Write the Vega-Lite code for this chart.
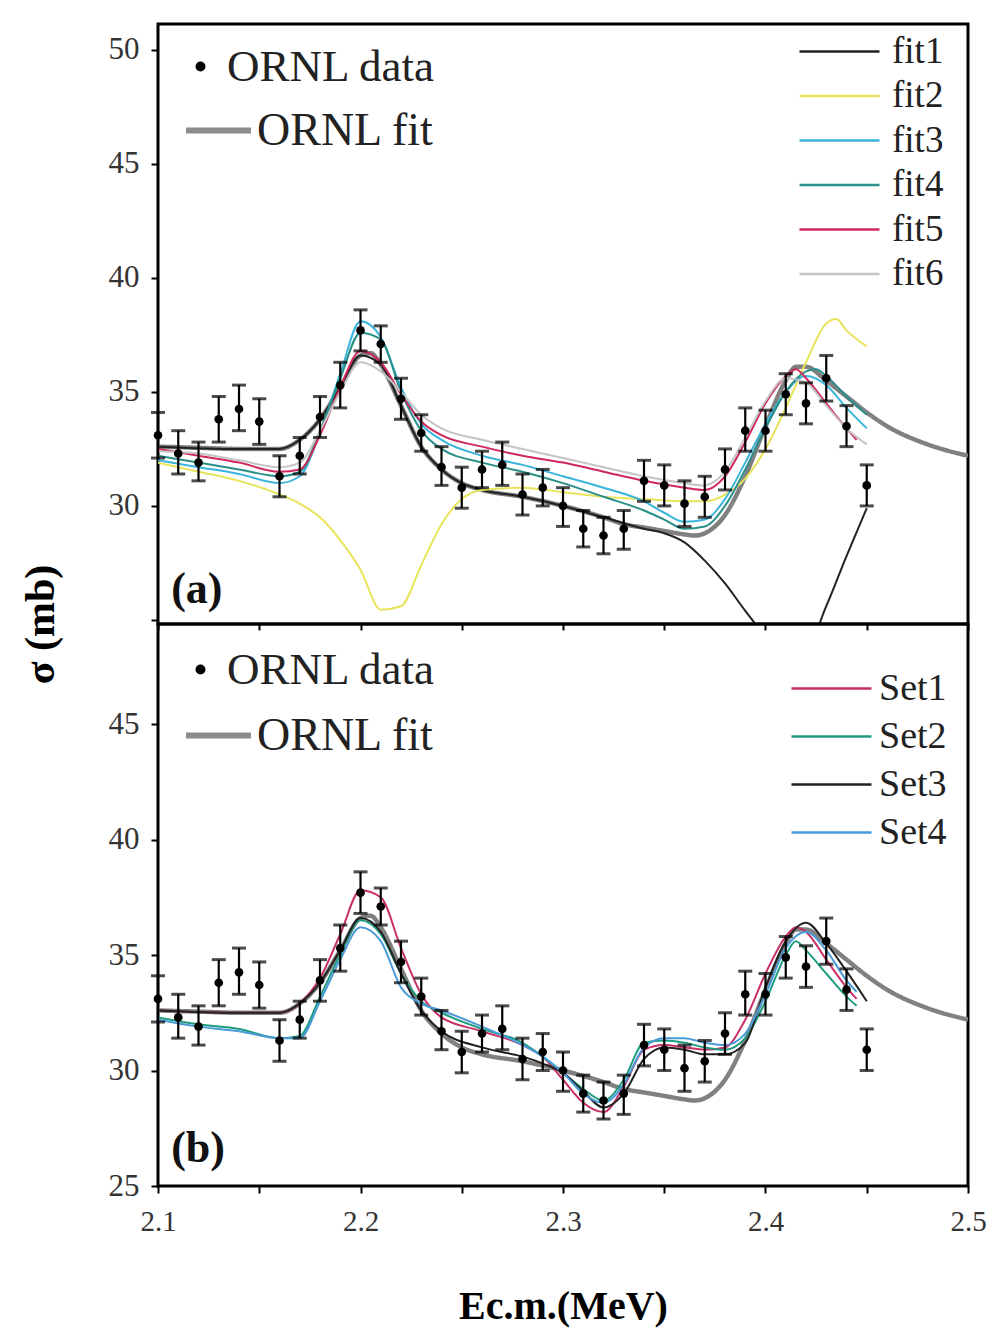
{
  "$schema": "https://vega.github.io/schema/vega-lite/v6.json",
  "padding": {"left": 17, "top": 22, "right": 29, "bottom": 5},
  "background": "white",
  "config": {
    "font": "Liberation Serif",
    "view": {"stroke": "black", "strokeWidth": 3},
    "axis": {"grid": false, "domain": false, "labelFont": "Liberation Serif", "labelFontSize": 29, "labelColor": "#333", "tickColor": "black", "tickWidth": 2, "tickSize": 7, "labelPadding": 8, "titleFont": "Liberation Serif", "titleColor": "black"},
    "legend": {"labelFont": "Liberation Serif", "labelColor": "#222", "labelLimit": 500, "orient": "none", "title": null}
  },
  "datasets": {
    "pts": [
      {"E": 2.10, "s": 33.1, "lo": 32.1, "hi": 34.1, "src": "ORNL data"},
      {"E": 2.11, "s": 32.3, "lo": 31.4, "hi": 33.3, "src": "ORNL data"},
      {"E": 2.12, "s": 31.9, "lo": 31.1, "hi": 32.8, "src": "ORNL data"},
      {"E": 2.13, "s": 33.8, "lo": 32.8, "hi": 34.8, "src": "ORNL data"},
      {"E": 2.14, "s": 34.25, "lo": 33.3, "hi": 35.3, "src": "ORNL data"},
      {"E": 2.15, "s": 33.7, "lo": 32.7, "hi": 34.7, "src": "ORNL data"},
      {"E": 2.16, "s": 31.3, "lo": 30.4, "hi": 32.2, "src": "ORNL data"},
      {"E": 2.17, "s": 32.2, "lo": 31.4, "hi": 33.0, "src": "ORNL data"},
      {"E": 2.18, "s": 33.9, "lo": 33.0, "hi": 34.8, "src": "ORNL data"},
      {"E": 2.19, "s": 35.3, "lo": 34.3, "hi": 36.3, "src": "ORNL data"},
      {"E": 2.20, "s": 37.7, "lo": 36.8, "hi": 38.6, "src": "ORNL data"},
      {"E": 2.21, "s": 37.1, "lo": 36.3, "hi": 37.9, "src": "ORNL data"},
      {"E": 2.22, "s": 34.7, "lo": 33.8, "hi": 35.6, "src": "ORNL data"},
      {"E": 2.23, "s": 33.2, "lo": 32.4, "hi": 34.0, "src": "ORNL data"},
      {"E": 2.24, "s": 31.7, "lo": 30.9, "hi": 32.6, "src": "ORNL data"},
      {"E": 2.25, "s": 30.8, "lo": 29.9, "hi": 31.7, "src": "ORNL data"},
      {"E": 2.26, "s": 31.6, "lo": 30.8, "hi": 32.4, "src": "ORNL data"},
      {"E": 2.27, "s": 31.8, "lo": 30.9, "hi": 32.8, "src": "ORNL data"},
      {"E": 2.28, "s": 30.5, "lo": 29.6, "hi": 31.4, "src": "ORNL data"},
      {"E": 2.29, "s": 30.8, "lo": 30.0, "hi": 31.6, "src": "ORNL data"},
      {"E": 2.30, "s": 30.0, "lo": 29.1, "hi": 30.8, "src": "ORNL data"},
      {"E": 2.31, "s": 29.0, "lo": 28.2, "hi": 29.8, "src": "ORNL data"},
      {"E": 2.32, "s": 28.7, "lo": 27.9, "hi": 29.5, "src": "ORNL data"},
      {"E": 2.33, "s": 29.0, "lo": 28.1, "hi": 29.8, "src": "ORNL data"},
      {"E": 2.34, "s": 31.1, "lo": 30.2, "hi": 32.0, "src": "ORNL data"},
      {"E": 2.35, "s": 30.9, "lo": 30.0, "hi": 31.8, "src": "ORNL data"},
      {"E": 2.36, "s": 30.1, "lo": 29.1, "hi": 31.1, "src": "ORNL data"},
      {"E": 2.37, "s": 30.4, "lo": 29.5, "hi": 31.3, "src": "ORNL data"},
      {"E": 2.38, "s": 31.6, "lo": 30.7, "hi": 32.5, "src": "ORNL data"},
      {"E": 2.39, "s": 33.3, "lo": 32.4, "hi": 34.3, "src": "ORNL data"},
      {"E": 2.40, "s": 33.3, "lo": 32.4, "hi": 34.2, "src": "ORNL data"},
      {"E": 2.41, "s": 34.9, "lo": 34.0, "hi": 35.8, "src": "ORNL data"},
      {"E": 2.42, "s": 34.5, "lo": 33.6, "hi": 35.4, "src": "ORNL data"},
      {"E": 2.43, "s": 35.6, "lo": 34.6, "hi": 36.6, "src": "ORNL data"},
      {"E": 2.44, "s": 33.5, "lo": 32.6, "hi": 34.4, "src": "ORNL data"},
      {"E": 2.45, "s": 30.9, "lo": 30.0, "hi": 31.8, "src": "ORNL data"}
    ],
    "ornl": [
      {"E": 2.10, "s": 32.6, "src": "ORNL fit"}, {"E": 2.12, "s": 32.55, "src": "ORNL fit"}, {"E": 2.14, "s": 32.5, "src": "ORNL fit"},
      {"E": 2.16, "s": 32.5, "src": "ORNL fit"}, {"E": 2.17, "s": 32.9, "src": "ORNL fit"}, {"E": 2.18, "s": 33.8, "src": "ORNL fit"},
      {"E": 2.19, "s": 35.2, "src": "ORNL fit"}, {"E": 2.20, "s": 36.6, "src": "ORNL fit"}, {"E": 2.205, "s": 36.7, "src": "ORNL fit"},
      {"E": 2.21, "s": 36.2, "src": "ORNL fit"}, {"E": 2.22, "s": 34.4, "src": "ORNL fit"}, {"E": 2.23, "s": 32.6, "src": "ORNL fit"},
      {"E": 2.24, "s": 31.6, "src": "ORNL fit"}, {"E": 2.25, "s": 31.0, "src": "ORNL fit"}, {"E": 2.26, "s": 30.7, "src": "ORNL fit"},
      {"E": 2.28, "s": 30.4, "src": "ORNL fit"}, {"E": 2.30, "s": 30.0, "src": "ORNL fit"}, {"E": 2.32, "s": 29.5, "src": "ORNL fit"},
      {"E": 2.33, "s": 29.2, "src": "ORNL fit"}, {"E": 2.34, "s": 29.05, "src": "ORNL fit"}, {"E": 2.35, "s": 28.9, "src": "ORNL fit"},
      {"E": 2.36, "s": 28.75, "src": "ORNL fit"}, {"E": 2.365, "s": 28.7, "src": "ORNL fit"}, {"E": 2.37, "s": 28.8, "src": "ORNL fit"},
      {"E": 2.38, "s": 29.6, "src": "ORNL fit"}, {"E": 2.39, "s": 31.3, "src": "ORNL fit"}, {"E": 2.40, "s": 33.5, "src": "ORNL fit"},
      {"E": 2.41, "s": 35.5, "src": "ORNL fit"}, {"E": 2.415, "s": 36.1, "src": "ORNL fit"}, {"E": 2.42, "s": 36.1, "src": "ORNL fit"},
      {"E": 2.43, "s": 35.5, "src": "ORNL fit"}, {"E": 2.44, "s": 34.8, "src": "ORNL fit"}, {"E": 2.45, "s": 34.1, "src": "ORNL fit"},
      {"E": 2.46, "s": 33.5, "src": "ORNL fit"}, {"E": 2.48, "s": 32.7, "src": "ORNL fit"}, {"E": 2.50, "s": 32.2, "src": "ORNL fit"}
    ],
    "fits": [
      {"fit": "fit1", "E": 2.10, "s": 32.6}, {"fit": "fit1", "E": 2.14, "s": 32.5}, {"fit": "fit1", "E": 2.16, "s": 32.5}, {"fit": "fit1", "E": 2.17, "s": 32.9},
      {"fit": "fit1", "E": 2.18, "s": 33.8}, {"fit": "fit1", "E": 2.19, "s": 35.2}, {"fit": "fit1", "E": 2.20, "s": 36.6}, {"fit": "fit1", "E": 2.21, "s": 36.2},
      {"fit": "fit1", "E": 2.22, "s": 34.4}, {"fit": "fit1", "E": 2.23, "s": 32.6}, {"fit": "fit1", "E": 2.24, "s": 31.6}, {"fit": "fit1", "E": 2.25, "s": 31.0},
      {"fit": "fit1", "E": 2.26, "s": 30.7}, {"fit": "fit1", "E": 2.28, "s": 30.4}, {"fit": "fit1", "E": 2.30, "s": 30.0}, {"fit": "fit1", "E": 2.32, "s": 29.5},
      {"fit": "fit1", "E": 2.34, "s": 29.0}, {"fit": "fit1", "E": 2.35, "s": 28.8}, {"fit": "fit1", "E": 2.36, "s": 28.4}, {"fit": "fit1", "E": 2.37, "s": 27.6},
      {"fit": "fit1", "E": 2.38, "s": 26.6}, {"fit": "fit1", "E": 2.39, "s": 25.4}, {"fit": "fit1", "E": 2.40, "s": 24.3}, {"fit": "fit1", "E": 2.41, "s": 23.6},
      {"fit": "fit1", "E": 2.42, "s": 23.7}, {"fit": "fit1", "E": 2.43, "s": 25.6}, {"fit": "fit1", "E": 2.44, "s": 27.8}, {"fit": "fit1", "E": 2.45, "s": 29.9},

      {"fit": "fit2", "E": 2.10, "s": 31.9}, {"fit": "fit2", "E": 2.12, "s": 31.5}, {"fit": "fit2", "E": 2.14, "s": 31.1}, {"fit": "fit2", "E": 2.16, "s": 30.5},
      {"fit": "fit2", "E": 2.17, "s": 30.1}, {"fit": "fit2", "E": 2.18, "s": 29.5}, {"fit": "fit2", "E": 2.19, "s": 28.5}, {"fit": "fit2", "E": 2.20, "s": 27.2},
      {"fit": "fit2", "E": 2.21, "s": 25.45}, {"fit": "fit2", "E": 2.22, "s": 25.6}, {"fit": "fit2", "E": 2.23, "s": 27.4}, {"fit": "fit2", "E": 2.24, "s": 29.2},
      {"fit": "fit2", "E": 2.25, "s": 30.3}, {"fit": "fit2", "E": 2.26, "s": 30.7}, {"fit": "fit2", "E": 2.28, "s": 30.8}, {"fit": "fit2", "E": 2.30, "s": 30.6},
      {"fit": "fit2", "E": 2.32, "s": 30.4}, {"fit": "fit2", "E": 2.34, "s": 30.3}, {"fit": "fit2", "E": 2.36, "s": 30.2}, {"fit": "fit2", "E": 2.37, "s": 30.2},
      {"fit": "fit2", "E": 2.38, "s": 30.5}, {"fit": "fit2", "E": 2.39, "s": 31.2}, {"fit": "fit2", "E": 2.40, "s": 32.5}, {"fit": "fit2", "E": 2.41, "s": 34.3},
      {"fit": "fit2", "E": 2.42, "s": 36.3}, {"fit": "fit2", "E": 2.43, "s": 38.0}, {"fit": "fit2", "E": 2.435, "s": 38.2}, {"fit": "fit2", "E": 2.44, "s": 37.7},
      {"fit": "fit2", "E": 2.45, "s": 37.0},

      {"fit": "fit3", "E": 2.10, "s": 32.0}, {"fit": "fit3", "E": 2.12, "s": 31.7}, {"fit": "fit3", "E": 2.14, "s": 31.4}, {"fit": "fit3", "E": 2.16, "s": 31.0},
      {"fit": "fit3", "E": 2.17, "s": 31.3}, {"fit": "fit3", "E": 2.18, "s": 33.2}, {"fit": "fit3", "E": 2.19, "s": 35.8}, {"fit": "fit3", "E": 2.20, "s": 38.1},
      {"fit": "fit3", "E": 2.21, "s": 37.4}, {"fit": "fit3", "E": 2.22, "s": 35.2}, {"fit": "fit3", "E": 2.23, "s": 33.6}, {"fit": "fit3", "E": 2.24, "s": 32.9},
      {"fit": "fit3", "E": 2.26, "s": 32.2}, {"fit": "fit3", "E": 2.28, "s": 31.8}, {"fit": "fit3", "E": 2.30, "s": 31.3}, {"fit": "fit3", "E": 2.32, "s": 30.8},
      {"fit": "fit3", "E": 2.34, "s": 30.2}, {"fit": "fit3", "E": 2.35, "s": 29.7}, {"fit": "fit3", "E": 2.36, "s": 29.3}, {"fit": "fit3", "E": 2.37, "s": 29.4},
      {"fit": "fit3", "E": 2.38, "s": 30.3}, {"fit": "fit3", "E": 2.39, "s": 31.9}, {"fit": "fit3", "E": 2.40, "s": 33.6}, {"fit": "fit3", "E": 2.41, "s": 35.0},
      {"fit": "fit3", "E": 2.42, "s": 35.7}, {"fit": "fit3", "E": 2.43, "s": 35.3}, {"fit": "fit3", "E": 2.44, "s": 34.3}, {"fit": "fit3", "E": 2.45, "s": 33.4},

      {"fit": "fit4", "E": 2.10, "s": 32.2}, {"fit": "fit4", "E": 2.12, "s": 31.9}, {"fit": "fit4", "E": 2.14, "s": 31.6}, {"fit": "fit4", "E": 2.16, "s": 31.3},
      {"fit": "fit4", "E": 2.17, "s": 31.5}, {"fit": "fit4", "E": 2.18, "s": 33.3}, {"fit": "fit4", "E": 2.19, "s": 35.6}, {"fit": "fit4", "E": 2.20, "s": 37.6},
      {"fit": "fit4", "E": 2.21, "s": 37.3}, {"fit": "fit4", "E": 2.22, "s": 35.0}, {"fit": "fit4", "E": 2.23, "s": 33.3}, {"fit": "fit4", "E": 2.24, "s": 32.5},
      {"fit": "fit4", "E": 2.26, "s": 31.9}, {"fit": "fit4", "E": 2.28, "s": 31.5}, {"fit": "fit4", "E": 2.30, "s": 31.0}, {"fit": "fit4", "E": 2.32, "s": 30.4},
      {"fit": "fit4", "E": 2.34, "s": 29.8}, {"fit": "fit4", "E": 2.35, "s": 29.4}, {"fit": "fit4", "E": 2.36, "s": 29.0}, {"fit": "fit4", "E": 2.37, "s": 29.1},
      {"fit": "fit4", "E": 2.38, "s": 30.0}, {"fit": "fit4", "E": 2.39, "s": 31.6}, {"fit": "fit4", "E": 2.40, "s": 33.4}, {"fit": "fit4", "E": 2.41, "s": 35.0},
      {"fit": "fit4", "E": 2.42, "s": 35.9}, {"fit": "fit4", "E": 2.425, "s": 36.0}, {"fit": "fit4", "E": 2.43, "s": 35.7}, {"fit": "fit4", "E": 2.44, "s": 34.8},
      {"fit": "fit4", "E": 2.45, "s": 34.0},

      {"fit": "fit5", "E": 2.10, "s": 32.5}, {"fit": "fit5", "E": 2.12, "s": 32.2}, {"fit": "fit5", "E": 2.14, "s": 31.9}, {"fit": "fit5", "E": 2.16, "s": 31.5},
      {"fit": "fit5", "E": 2.17, "s": 31.6}, {"fit": "fit5", "E": 2.18, "s": 33.1}, {"fit": "fit5", "E": 2.19, "s": 35.2}, {"fit": "fit5", "E": 2.20, "s": 36.8},
      {"fit": "fit5", "E": 2.21, "s": 36.3}, {"fit": "fit5", "E": 2.22, "s": 34.9}, {"fit": "fit5", "E": 2.23, "s": 33.7}, {"fit": "fit5", "E": 2.24, "s": 33.1},
      {"fit": "fit5", "E": 2.26, "s": 32.6}, {"fit": "fit5", "E": 2.28, "s": 32.2}, {"fit": "fit5", "E": 2.30, "s": 31.9}, {"fit": "fit5", "E": 2.32, "s": 31.5},
      {"fit": "fit5", "E": 2.34, "s": 31.1}, {"fit": "fit5", "E": 2.36, "s": 30.8}, {"fit": "fit5", "E": 2.37, "s": 30.7}, {"fit": "fit5", "E": 2.38, "s": 31.3},
      {"fit": "fit5", "E": 2.39, "s": 32.8}, {"fit": "fit5", "E": 2.40, "s": 34.5}, {"fit": "fit5", "E": 2.41, "s": 35.7}, {"fit": "fit5", "E": 2.415, "s": 36.0},
      {"fit": "fit5", "E": 2.42, "s": 35.6}, {"fit": "fit5", "E": 2.43, "s": 34.5}, {"fit": "fit5", "E": 2.44, "s": 33.4}, {"fit": "fit5", "E": 2.445, "s": 32.9},

      {"fit": "fit6", "E": 2.10, "s": 32.4}, {"fit": "fit6", "E": 2.12, "s": 32.3}, {"fit": "fit6", "E": 2.14, "s": 32.0}, {"fit": "fit6", "E": 2.16, "s": 31.7},
      {"fit": "fit6", "E": 2.17, "s": 31.9}, {"fit": "fit6", "E": 2.18, "s": 33.3}, {"fit": "fit6", "E": 2.19, "s": 35.0}, {"fit": "fit6", "E": 2.20, "s": 36.3},
      {"fit": "fit6", "E": 2.21, "s": 35.9}, {"fit": "fit6", "E": 2.22, "s": 35.0}, {"fit": "fit6", "E": 2.23, "s": 34.0}, {"fit": "fit6", "E": 2.24, "s": 33.4},
      {"fit": "fit6", "E": 2.26, "s": 32.9}, {"fit": "fit6", "E": 2.28, "s": 32.5}, {"fit": "fit6", "E": 2.30, "s": 32.1}, {"fit": "fit6", "E": 2.32, "s": 31.7},
      {"fit": "fit6", "E": 2.34, "s": 31.3}, {"fit": "fit6", "E": 2.36, "s": 31.0}, {"fit": "fit6", "E": 2.37, "s": 30.9}, {"fit": "fit6", "E": 2.38, "s": 31.5},
      {"fit": "fit6", "E": 2.39, "s": 33.0}, {"fit": "fit6", "E": 2.40, "s": 34.6}, {"fit": "fit6", "E": 2.41, "s": 35.6}, {"fit": "fit6", "E": 2.42, "s": 35.4},
      {"fit": "fit6", "E": 2.43, "s": 34.4}, {"fit": "fit6", "E": 2.44, "s": 33.4}, {"fit": "fit6", "E": 2.45, "s": 32.7}
    ],
    "sets": [
      {"set": "Set1", "E": 2.10, "s": 32.6}, {"set": "Set1", "E": 2.14, "s": 32.5}, {"set": "Set1", "E": 2.16, "s": 32.5}, {"set": "Set1", "E": 2.17, "s": 32.9},
      {"set": "Set1", "E": 2.18, "s": 34.0}, {"set": "Set1", "E": 2.19, "s": 35.9}, {"set": "Set1", "E": 2.20, "s": 37.8}, {"set": "Set1", "E": 2.21, "s": 37.5},
      {"set": "Set1", "E": 2.22, "s": 35.3}, {"set": "Set1", "E": 2.23, "s": 33.3}, {"set": "Set1", "E": 2.24, "s": 32.3}, {"set": "Set1", "E": 2.26, "s": 31.7},
      {"set": "Set1", "E": 2.28, "s": 31.1}, {"set": "Set1", "E": 2.29, "s": 30.6}, {"set": "Set1", "E": 2.30, "s": 29.6}, {"set": "Set1", "E": 2.31, "s": 28.6},
      {"set": "Set1", "E": 2.32, "s": 28.2}, {"set": "Set1", "E": 2.33, "s": 29.3}, {"set": "Set1", "E": 2.34, "s": 30.9}, {"set": "Set1", "E": 2.35, "s": 31.1},
      {"set": "Set1", "E": 2.36, "s": 31.0}, {"set": "Set1", "E": 2.37, "s": 30.9}, {"set": "Set1", "E": 2.38, "s": 31.0}, {"set": "Set1", "E": 2.39, "s": 32.2},
      {"set": "Set1", "E": 2.40, "s": 34.2}, {"set": "Set1", "E": 2.41, "s": 35.8}, {"set": "Set1", "E": 2.415, "s": 36.2}, {"set": "Set1", "E": 2.42, "s": 36.0},
      {"set": "Set1", "E": 2.43, "s": 34.8}, {"set": "Set1", "E": 2.44, "s": 33.6}, {"set": "Set1", "E": 2.445, "s": 33.1},

      {"set": "Set2", "E": 2.10, "s": 32.3}, {"set": "Set2", "E": 2.12, "s": 32.0}, {"set": "Set2", "E": 2.14, "s": 31.8}, {"set": "Set2", "E": 2.16, "s": 31.4},
      {"set": "Set2", "E": 2.17, "s": 31.5}, {"set": "Set2", "E": 2.18, "s": 33.2}, {"set": "Set2", "E": 2.19, "s": 35.0}, {"set": "Set2", "E": 2.20, "s": 36.5},
      {"set": "Set2", "E": 2.21, "s": 35.9}, {"set": "Set2", "E": 2.22, "s": 34.2}, {"set": "Set2", "E": 2.23, "s": 33.0}, {"set": "Set2", "E": 2.24, "s": 32.5},
      {"set": "Set2", "E": 2.26, "s": 31.8}, {"set": "Set2", "E": 2.28, "s": 31.2}, {"set": "Set2", "E": 2.29, "s": 30.6}, {"set": "Set2", "E": 2.30, "s": 29.9},
      {"set": "Set2", "E": 2.31, "s": 29.2}, {"set": "Set2", "E": 2.32, "s": 28.7}, {"set": "Set2", "E": 2.33, "s": 29.6}, {"set": "Set2", "E": 2.34, "s": 31.2},
      {"set": "Set2", "E": 2.35, "s": 31.3}, {"set": "Set2", "E": 2.36, "s": 31.2}, {"set": "Set2", "E": 2.37, "s": 31.0}, {"set": "Set2", "E": 2.38, "s": 30.9},
      {"set": "Set2", "E": 2.39, "s": 31.4}, {"set": "Set2", "E": 2.40, "s": 33.0}, {"set": "Set2", "E": 2.41, "s": 35.0}, {"set": "Set2", "E": 2.415, "s": 35.6},
      {"set": "Set2", "E": 2.42, "s": 35.2}, {"set": "Set2", "E": 2.43, "s": 34.2}, {"set": "Set2", "E": 2.44, "s": 33.2}, {"set": "Set2", "E": 2.445, "s": 32.8},

      {"set": "Set3", "E": 2.10, "s": 32.6}, {"set": "Set3", "E": 2.14, "s": 32.5}, {"set": "Set3", "E": 2.16, "s": 32.5}, {"set": "Set3", "E": 2.17, "s": 32.9},
      {"set": "Set3", "E": 2.18, "s": 33.8}, {"set": "Set3", "E": 2.19, "s": 35.2}, {"set": "Set3", "E": 2.20, "s": 36.6}, {"set": "Set3", "E": 2.21, "s": 36.0},
      {"set": "Set3", "E": 2.22, "s": 34.2}, {"set": "Set3", "E": 2.23, "s": 32.6}, {"set": "Set3", "E": 2.24, "s": 31.7}, {"set": "Set3", "E": 2.26, "s": 31.0},
      {"set": "Set3", "E": 2.28, "s": 30.6}, {"set": "Set3", "E": 2.29, "s": 30.3}, {"set": "Set3", "E": 2.30, "s": 29.9}, {"set": "Set3", "E": 2.31, "s": 29.1},
      {"set": "Set3", "E": 2.32, "s": 28.4}, {"set": "Set3", "E": 2.33, "s": 29.0}, {"set": "Set3", "E": 2.34, "s": 30.5}, {"set": "Set3", "E": 2.35, "s": 31.0},
      {"set": "Set3", "E": 2.36, "s": 30.9}, {"set": "Set3", "E": 2.37, "s": 30.7}, {"set": "Set3", "E": 2.38, "s": 30.7}, {"set": "Set3", "E": 2.39, "s": 31.2},
      {"set": "Set3", "E": 2.40, "s": 33.6}, {"set": "Set3", "E": 2.41, "s": 35.6}, {"set": "Set3", "E": 2.42, "s": 36.4}, {"set": "Set3", "E": 2.43, "s": 35.5},
      {"set": "Set3", "E": 2.44, "s": 34.3}, {"set": "Set3", "E": 2.45, "s": 33.0},

      {"set": "Set4", "E": 2.10, "s": 32.2}, {"set": "Set4", "E": 2.12, "s": 31.9}, {"set": "Set4", "E": 2.14, "s": 31.7}, {"set": "Set4", "E": 2.16, "s": 31.4},
      {"set": "Set4", "E": 2.17, "s": 31.4}, {"set": "Set4", "E": 2.18, "s": 33.0}, {"set": "Set4", "E": 2.19, "s": 34.8}, {"set": "Set4", "E": 2.20, "s": 36.2},
      {"set": "Set4", "E": 2.21, "s": 35.6}, {"set": "Set4", "E": 2.22, "s": 33.6}, {"set": "Set4", "E": 2.23, "s": 32.9}, {"set": "Set4", "E": 2.24, "s": 32.6},
      {"set": "Set4", "E": 2.26, "s": 31.9}, {"set": "Set4", "E": 2.28, "s": 31.1}, {"set": "Set4", "E": 2.29, "s": 30.6}, {"set": "Set4", "E": 2.30, "s": 29.9},
      {"set": "Set4", "E": 2.31, "s": 29.0}, {"set": "Set4", "E": 2.32, "s": 28.6}, {"set": "Set4", "E": 2.33, "s": 29.4}, {"set": "Set4", "E": 2.34, "s": 31.0},
      {"set": "Set4", "E": 2.35, "s": 31.4}, {"set": "Set4", "E": 2.36, "s": 31.4}, {"set": "Set4", "E": 2.37, "s": 31.2}, {"set": "Set4", "E": 2.38, "s": 31.1},
      {"set": "Set4", "E": 2.39, "s": 31.6}, {"set": "Set4", "E": 2.40, "s": 33.3}, {"set": "Set4", "E": 2.41, "s": 35.3}, {"set": "Set4", "E": 2.42, "s": 36.0},
      {"set": "Set4", "E": 2.43, "s": 35.2}, {"set": "Set4", "E": 2.44, "s": 33.9}, {"set": "Set4", "E": 2.445, "s": 33.4}
    ],
    "labA": [{"E": 2.1065, "s": 26.3, "t": "(a)"}],
    "labB": [{"E": 2.1065, "s": 26.6, "t": "(b)"}]
  },
  "spacing": 0,
  "bounds": "flush",
  "resolve": {"scale": {"x": "independent", "y": "independent", "color": "independent", "shape": "independent", "strokeDash": "independent"}, "legend": {"color": "independent", "shape": "independent", "strokeDash": "independent"}},
  "vconcat": [
    {
      "width": 810,
      "height": 600,
      "layer": [
        {
          "data": {"name": "ornl"},
          "mark": {"type": "line", "color": "#808080", "strokeWidth": 4.5, "interpolate": "monotone", "clip": true},
          "encoding": {
            "x": {"field": "E", "type": "quantitative", "scale": {"domain": [2.1, 2.5], "nice": false},
              "axis": {"values": [2.1, 2.15, 2.2, 2.25, 2.3, 2.35, 2.4, 2.45, 2.5], "labels": false, "tickSize": 6, "title": null}},
            "y": {"field": "s", "type": "quantitative", "scale": {"domain": [24.82, 51.14], "nice": false, "zero": false},
              "axis": {"values": [25, 30, 35, 40, 45, 50], "labelExpr": "datum.value == 25 ? '' : datum.label", "labelPadding": 12, "labelFontSize": 31,
                "title": "σ (mb)", "titleFontSize": 42, "titleFontWeight": "bold", "titleX": -118, "titleY": 600, "titleAngle": -90, "titleAlign": "center", "titleBaseline": "middle"}},
            "strokeDash": {"field": "src", "type": "nominal", "scale": {"range": [[1, 0]]},
              "legend": {"symbolType": "stroke", "symbolSize": 4225, "symbolStrokeColor": "#8c8c8c", "symbolStrokeWidth": 6, "labelFontSize": 46, "labelOffset": 3, "legendX": 25, "legendY": 71}}
          }
        },
        {
          "data": {"name": "fits"},
          "mark": {"type": "line", "strokeWidth": 2, "interpolate": "monotone", "clip": true},
          "encoding": {
            "x": {"field": "E", "type": "quantitative"},
            "y": {"field": "s", "type": "quantitative"},
            "color": {"field": "fit", "type": "nominal",
              "scale": {"domain": ["fit1", "fit2", "fit3", "fit4", "fit5", "fit6"], "range": ["#222222", "#e8e45a", "#3bb4dc", "#2a8f88", "#d0285a", "#c4c4c4"]},
              "legend": {"symbolType": "M-2,0H2", "symbolSize": 1600, "symbolStrokeWidth": 2.5, "labelFontSize": 37, "labelOffset": 31, "rowPadding": 4.5, "legendX": 660, "legendY": 6}}
          }
        },
        {
          "data": {"name": "pts"},
          "mark": {"type": "rule", "color": "black", "strokeWidth": 2.2},
          "encoding": {"x": {"field": "E", "type": "quantitative"}, "y": {"field": "lo", "type": "quantitative"}, "y2": {"field": "hi"}}
        },
        {
          "data": {"name": "pts"},
          "mark": {"type": "tick", "orient": "horizontal", "color": "black", "size": 14, "thickness": 3},
          "encoding": {"x": {"field": "E", "type": "quantitative"}, "y": {"field": "hi", "type": "quantitative"}}
        },
        {
          "data": {"name": "pts"},
          "mark": {"type": "tick", "orient": "horizontal", "color": "black", "size": 14, "thickness": 3},
          "encoding": {"x": {"field": "E", "type": "quantitative"}, "y": {"field": "lo", "type": "quantitative"}}
        },
        {
          "data": {"name": "pts"},
          "mark": {"type": "point", "filled": true, "color": "black", "size": 75, "opacity": 1},
          "encoding": {
            "x": {"field": "E", "type": "quantitative"},
            "y": {"field": "s", "type": "quantitative"},
            "shape": {"field": "src", "type": "nominal", "scale": {"range": ["circle"]},
              "legend": {"symbolSize": 100, "symbolFillColor": "black", "symbolStrokeWidth": 0, "labelFontSize": 45, "labelOffset": 4, "legendX": 20, "legendY": 20}}
          }
        },
        {
          "data": {"name": "labA"},
          "mark": {"type": "text", "font": "Liberation Serif", "fontSize": 44, "fontWeight": "bold", "align": "left", "baseline": "middle", "color": "#111"},
          "encoding": {"x": {"field": "E", "type": "quantitative"}, "y": {"field": "s", "type": "quantitative"}, "text": {"field": "t"}}
        }
      ]
    },
    {
      "width": 810,
      "height": 562,
      "layer": [
        {
          "data": {"name": "ornl"},
          "mark": {"type": "line", "color": "#808080", "strokeWidth": 4.5, "interpolate": "monotone", "clip": true},
          "encoding": {
            "x": {"field": "E", "type": "quantitative", "scale": {"domain": [2.1, 2.5], "nice": false},
              "axis": {"values": [2.1, 2.15, 2.2, 2.25, 2.3, 2.35, 2.4, 2.45, 2.5], "labelExpr": "round(datum.value * 100) % 10 == 0 ? format(datum.value, '.1f') : ''", "labelPadding": 14, "labelFlush": false,
                "title": "Ec.m.(MeV)", "titleFontSize": 40, "titleFontWeight": "bold", "titlePadding": 50}},
            "y": {"field": "s", "type": "quantitative", "scale": {"domain": [25, 49.33], "nice": false, "zero": false},
              "axis": {"values": [25, 30, 35, 40, 45], "labelPadding": 12, "labelFontSize": 31, "title": null}},
            "strokeDash": {"field": "src", "type": "nominal", "scale": {"range": [[1, 0]]},
              "legend": {"symbolType": "stroke", "symbolSize": 4225, "symbolStrokeColor": "#8c8c8c", "symbolStrokeWidth": 6, "labelFontSize": 46, "labelOffset": 3, "legendX": 25, "legendY": 76}}
          }
        },
        {
          "data": {"name": "sets"},
          "mark": {"type": "line", "strokeWidth": 2, "interpolate": "monotone", "clip": true},
          "encoding": {
            "x": {"field": "E", "type": "quantitative"},
            "y": {"field": "s", "type": "quantitative"},
            "color": {"field": "set", "type": "nominal",
              "scale": {"domain": ["Set1", "Set2", "Set3", "Set4"], "range": ["#c8306a", "#1f9c80", "#222222", "#4a9ad8"]},
              "legend": {"symbolType": "M-2,0H2", "symbolSize": 1600, "symbolStrokeWidth": 2.5, "labelFontSize": 38, "labelOffset": 26, "rowPadding": 7, "legendX": 652, "legendY": 43}}
          }
        },
        {
          "data": {"name": "pts"},
          "mark": {"type": "rule", "color": "black", "strokeWidth": 2.2},
          "encoding": {"x": {"field": "E", "type": "quantitative"}, "y": {"field": "lo", "type": "quantitative"}, "y2": {"field": "hi"}}
        },
        {
          "data": {"name": "pts"},
          "mark": {"type": "tick", "orient": "horizontal", "color": "black", "size": 14, "thickness": 3},
          "encoding": {"x": {"field": "E", "type": "quantitative"}, "y": {"field": "hi", "type": "quantitative"}}
        },
        {
          "data": {"name": "pts"},
          "mark": {"type": "tick", "orient": "horizontal", "color": "black", "size": 14, "thickness": 3},
          "encoding": {"x": {"field": "E", "type": "quantitative"}, "y": {"field": "lo", "type": "quantitative"}}
        },
        {
          "data": {"name": "pts"},
          "mark": {"type": "point", "filled": true, "color": "black", "size": 75, "opacity": 1},
          "encoding": {
            "x": {"field": "E", "type": "quantitative"},
            "y": {"field": "s", "type": "quantitative"},
            "shape": {"field": "src", "type": "nominal", "scale": {"range": ["circle"]},
              "legend": {"symbolSize": 100, "symbolFillColor": "black", "symbolStrokeWidth": 0, "labelFontSize": 45, "labelOffset": 4, "legendX": 20, "legendY": 23}}
          }
        },
        {
          "data": {"name": "labB"},
          "mark": {"type": "text", "font": "Liberation Serif", "fontSize": 44, "fontWeight": "bold", "align": "left", "baseline": "middle", "color": "#111"},
          "encoding": {"x": {"field": "E", "type": "quantitative"}, "y": {"field": "s", "type": "quantitative"}, "text": {"field": "t"}}
        }
      ]
    }
  ]
}
